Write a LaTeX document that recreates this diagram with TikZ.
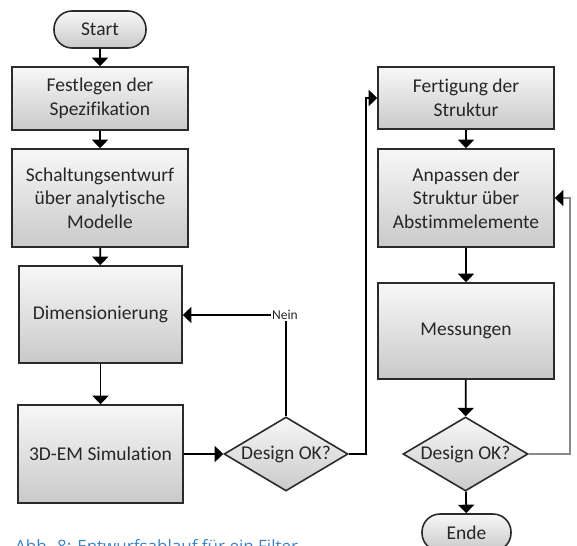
\documentclass[tikz,border=0pt]{standalone}
\usepackage{fontspec}
\setmainfont{Carlito}[Ligatures=NoCommon]
\newfontfamily\captionfont{Open Sans}
\usetikzlibrary{shapes.geometric,arrows.meta}

\definecolor{edgegray}{HTML}{2B2B2B}
\definecolor{textgray}{HTML}{262626}
\definecolor{loopgray}{HTML}{8A8A8A}
\definecolor{captionblue}{HTML}{3C82C8}

\tikzset{
  flowbase/.style={draw=edgegray, line width=1.6pt, top color=white!97!black,
    bottom color=black!21, text=textgray, font=\fontsize{19.5}{23.5}\selectfont,
    align=center, inner sep=0pt},
  procbox/.style={flowbase, rectangle},
  terminal/.style={flowbase, rectangle, rounded corners=18pt},
  decision/.style={flowbase, diamond, aspect=1.68},
  flow/.style={draw=black, line width=1.8pt, -{Triangle[length=8.5pt,width=16pt]}},
  flowline/.style={draw=black, line width=1.8pt},
  graylink/.style={draw=loopgray, line width=1.3pt, -{Triangle[length=8.5pt,width=16pt,color=black]}},
  tag/.style={font=\fontsize{13.5}{15}\selectfont, text=textgray, inner sep=1pt},
}

\begin{document}
\begin{tikzpicture}[x=1pt, y=-1pt]
  \useasboundingbox (0,0) rectangle (577,545);
  \clip (0,0) rectangle (577,545);

  % left column
  \node[terminal, minimum width=92pt, minimum height=37pt] (start) at (100,29.5) {Start};
  \node[procbox, minimum width=176pt, minimum height=63pt] (spec) at (100,98.5) {Festlegen der\\Spezifikation};
  \node[procbox, minimum width=176pt, minimum height=98pt] (schalt) at (100,198) {Schaltungsentwurf\\über analytische\\Modelle};
  \node[procbox, minimum width=163pt, minimum height=97pt] (dim) at (100.5,314.5) {Dimensionierung};
  \node[procbox, minimum width=165pt, minimum height=98pt] (sim) at (100.5,454) {3D-EM Simulation};
  \node[decision, minimum width=124pt, minimum height=74pt] (dec1) at (286,454) {Design OK?};
  \node[tag] (nein) at (285,315) {Nein};

  % right column
  \node[procbox, minimum width=176pt, minimum height=62pt] (fert) at (466,98) {Fertigung der\\Struktur};
  \node[procbox, minimum width=176pt, minimum height=98pt] (anp) at (466,198) {Anpassen der\\Struktur über\\Abstimmelemente};
  \node[procbox, minimum width=176pt, minimum height=96pt] (mess) at (466,331) {Messungen};
  \node[decision, minimum width=125pt, minimum height=74pt] (dec2) at (465.5,454) {Design OK?};
  \node[terminal, minimum width=89pt, minimum height=37pt] (ende) at (466.5,532.5) {Ende};

  % caption
  \node[anchor=base west, inner sep=0pt, text=captionblue,
        font=\captionfont\fontsize{17}{20}\selectfont] (cap) at (15,552) {Abb. 8: Entwurfsablauf für ein Filter};

  % connectors, left column
  \draw[flow] (start) -- (spec);
  \draw[flow] (spec) -- (schalt);
  \draw[flow] (schalt) -- (dim);
  \draw[flow] (dim) -- (sim);
  \draw[flow] (sim) -- (dec1);
  \draw[flowline] (dec1.north) -- (dec1.north |- nein.south);
  \draw[flow] (nein.west) -- (dim.east |- nein.west);

  % crossing to the right column
  \coordinate (upturn) at (366,454);
  \draw[flow] (dec1.east) -- (upturn) |- (fert.west);

  % connectors, right column
  \draw[flow] (fert) -- (anp);
  \draw[flow] (anp) -- (mess);
  \draw[flow] (mess) -- (dec2);
  \draw[flow] (dec2) -- (ende);

  % repeat loop back to tuning
  \coordinate (loopturn) at (570,454);
  \draw[graylink] (dec2.east) -- (loopturn) |- (anp.east);
\end{tikzpicture}
\end{document}
